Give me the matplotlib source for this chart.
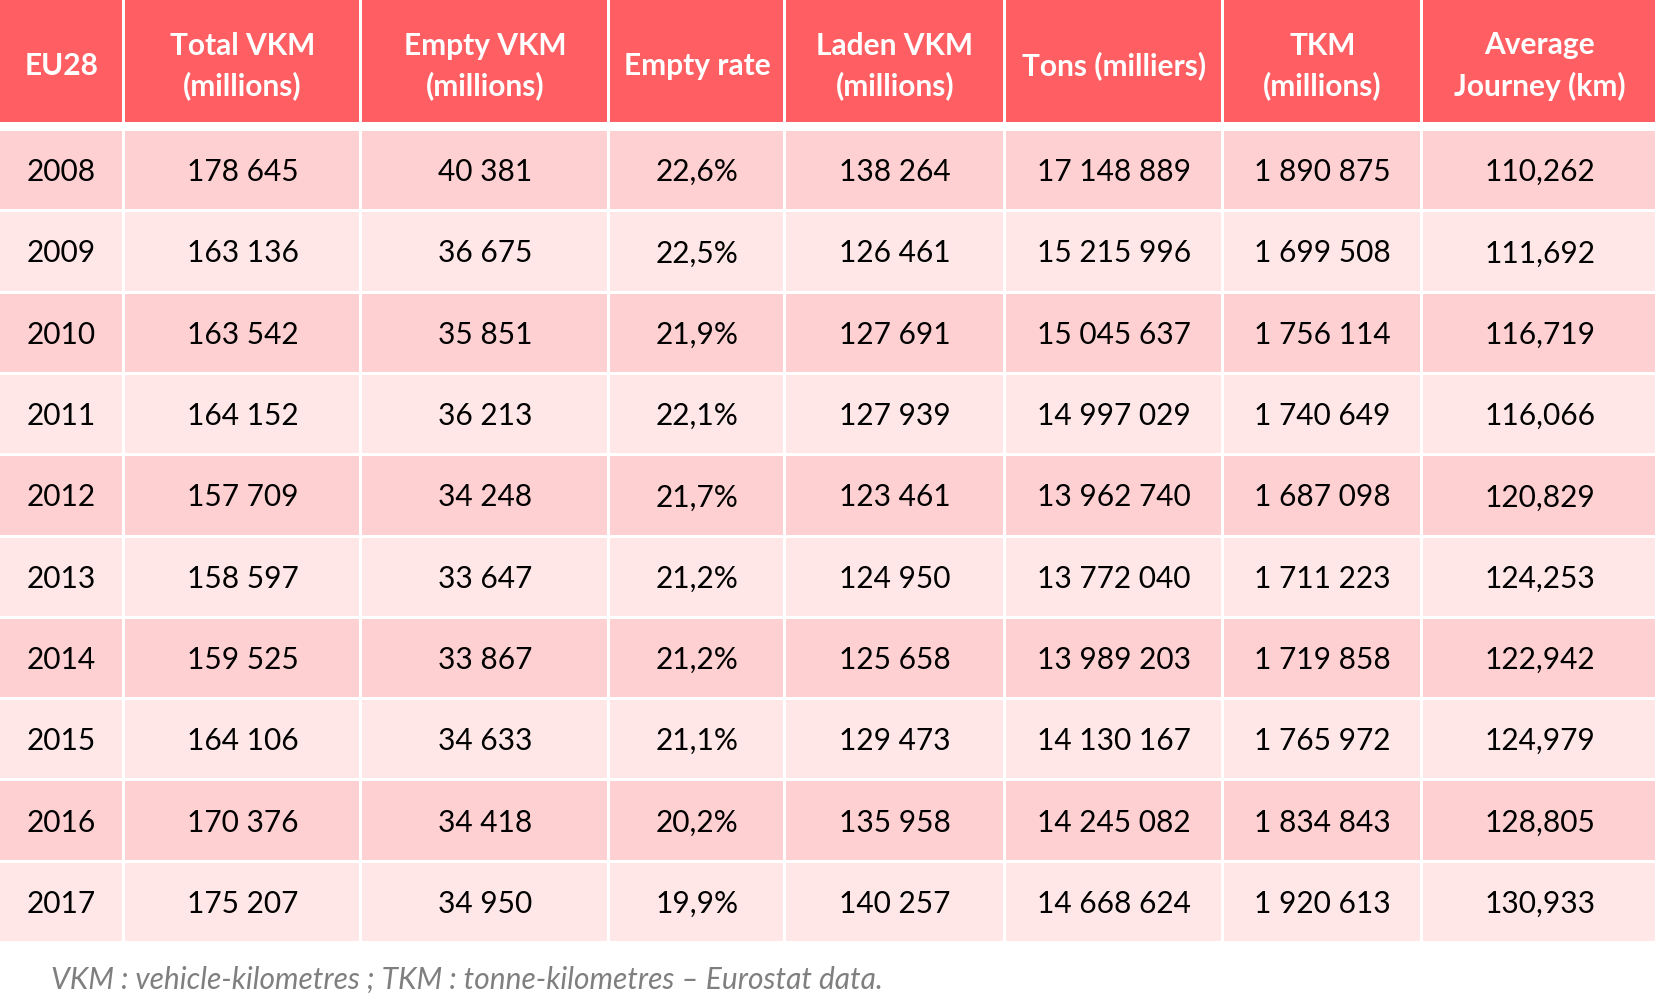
import matplotlib.pyplot as plt
from matplotlib.patches import Rectangle

headers = ["EU28", "Total VKM\n(millions)", "Empty VKM\n(millions)", "Empty rate",
           "Laden VKM\n(millions)", "Tons (milliers)", "TKM\n(millions)", "Average\nJourney (km)"]
years = ["2008", "2009", "2010", "2011", "2012", "2013", "2014", "2015", "2016", "2017"]
total_vkm = ["178 645", "163 136", "163 542", "164 152", "157 709",
             "158 597", "159 525", "164 106", "170 376", "175 207"]
empty_vkm = ["40 381", "36 675", "35 851", "36 213", "34 248",
             "33 647", "33 867", "34 633", "34 418", "34 950"]
empty_rate = ["22,6%", "22,5%", "21,9%", "22,1%", "21,7%",
              "21,2%", "21,2%", "21,1%", "20,2%", "19,9%"]
laden_vkm = ["138 264", "126 461", "127 691", "127 939", "123 461",
             "124 950", "125 658", "129 473", "135 958", "140 257"]
tons = ["17 148 889", "15 215 996", "15 045 637", "14 997 029", "13 962 740",
        "13 772 040", "13 989 203", "14 130 167", "14 245 082", "14 668 624"]
tkm = ["1 890 875", "1 699 508", "1 756 114", "1 740 649", "1 687 098",
       "1 711 223", "1 719 858", "1 765 972", "1 834 843", "1 920 613"]
avg_journey = ["110,262", "111,692", "116,719", "116,066", "120,829",
               "124,253", "122,942", "124,979", "128,805", "130,933"]
footnote = "VKM : vehicle-kilometres ; TKM : tonne-kilometres \u2013 Eurostat data."

columns = [years, total_vkm, empty_vkm, empty_rate, laden_vkm, tons, tkm, avg_journey]

W, H = 1656, 1008
col_edges = [0, 124, 361, 609, 785, 1005, 1223, 1422, 1656]
gap = 3
head_top, head_bot = 0, 122
body_top, body_bot = 131, 944
pitch = (body_bot - body_top) / len(years)

header_color = "#FF5F63"
row_colors = ["#FFD0D2", "#FFE7E8"]

plt.rcParams['font.family'] = ['Lato', 'DejaVu Sans']

fig = plt.figure(figsize=(W / 100, H / 100), dpi=100)
ax = fig.add_axes([0, 0, 1, 1])
ax.set_xlim(0, W)
ax.set_ylim(H, 0)
ax.axis("off")

def cell_x(j):
    x0 = col_edges[j] + (gap / 2 if j > 0 else 0)
    x1 = col_edges[j + 1] - (gap / 2 if j < len(col_edges) - 2 else 0)
    return x0, x1

# header
for j, h in enumerate(headers):
    x0, x1 = cell_x(j)
    ax.add_patch(Rectangle((x0, head_top), x1 - x0, head_bot - head_top,
                           facecolor=header_color, edgecolor="none"))
    ax.text((x0 + x1) / 2, (head_top + head_bot) / 2 + 5, h, ha="center", va="center",
            color="white", fontsize=21.5, fontweight="bold", linespacing=1.5)

# body rows
for i in range(len(years)):
    y0 = body_top + i * pitch
    y1 = y0 + pitch - gap
    for j, col in enumerate(columns):
        x0, x1 = cell_x(j)
        ax.add_patch(Rectangle((x0, y0), x1 - x0, y1 - y0,
                               facecolor=row_colors[i % 2], edgecolor="none"))
        ax.text((x0 + x1) / 2, (y0 + y1) / 2 + 2, col[i], ha="center", va="center",
                color="black", fontsize=21.5)

ax.text(51, 980, footnote, ha="left", va="center", color="#7F7F7F",
        fontsize=21.5, style="italic")

fig.savefig("out.png", dpi=100)
